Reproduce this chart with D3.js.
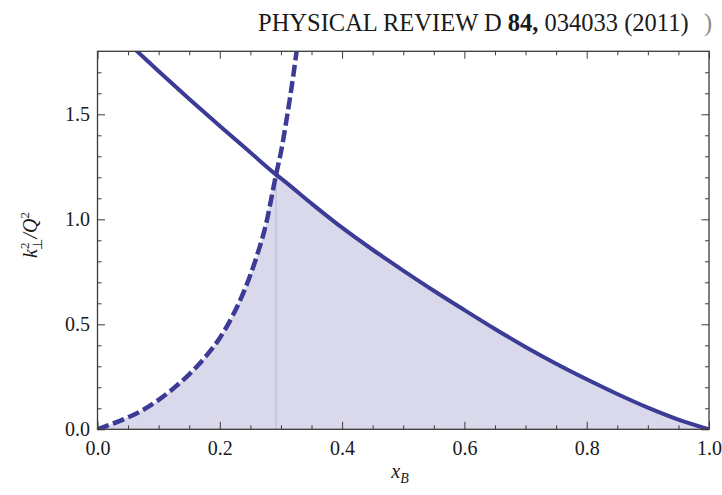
<!DOCTYPE html>
<html>
<head>
<meta charset="utf-8">
<script src="https://cdn.jsdelivr.net/npm/d3@7"></script>
<style>
  body { margin: 0; background: #fff; }
  svg { display: block; }
  text { font-family: "Liberation Serif", "Times New Roman", serif; }
</style>
</head>
<body>
<svg id="chart" width="722" height="495"></svg>
<script>
// Upper limit on k_perp^2/Q^2 from parton energy (solid line)
const energyX = [0.05, 0.1, 0.15, 0.2, 0.25, 0.292, 0.3, 0.35, 0.4, 0.45, 0.5, 0.55, 0.6, 0.65, 0.7, 0.75, 0.8, 0.85, 0.9, 0.95, 1.0];
const energyY = [1.84, 1.705, 1.573, 1.444, 1.318, 1.213, 1.195, 1.075, 0.96, 0.855, 0.756, 0.66, 0.568, 0.478, 0.392, 0.312, 0.238, 0.168, 0.103, 0.046, 0.0];

// Upper limit from the forward-moving parton condition (dashed line)
const forwardX = [0.0, 0.025, 0.05, 0.075, 0.1, 0.125, 0.15, 0.175, 0.2, 0.22, 0.24, 0.26, 0.275, 0.292, 0.3, 0.31, 0.32, 0.33];
const forwardY = [0.0, 0.027, 0.057, 0.093, 0.14, 0.197, 0.262, 0.34, 0.435, 0.535, 0.66, 0.82, 0.97, 1.213, 1.32, 1.49, 1.68, 1.9];

// Point where the two limits meet
const crossX = 0.292;
const crossY = 1.213;

// Axis ticks
const xMajor = [0, 0.2, 0.4, 0.6, 0.8, 1.0];
const xMinor = [0.05, 0.1, 0.15, 0.25, 0.3, 0.35, 0.45, 0.5, 0.55, 0.65, 0.7, 0.75, 0.85, 0.9, 0.95];
const yMajor = [0, 0.5, 1.0, 1.5];
const yMinor = [0.1, 0.2, 0.3, 0.4, 0.6, 0.7, 0.8, 0.9, 1.1, 1.2, 1.3, 1.4, 1.6, 1.7];

const svg = d3.select("#chart");
const plotL = 97.5, plotR = 709, plotT = 51.3, plotB = 429.3;

const x = d3.scaleLinear().domain([0, 1]).range([plotL, plotR]);
const y = d3.scaleLinear().domain([0, 1.8]).range([plotB, plotT]);

const lineColor = "#3c3c97";
const frameColor = "#3a3a3a";

svg.append("defs").append("clipPath").attr("id", "plotClip")
  .append("rect")
  .attr("x", plotL).attr("y", plotT)
  .attr("width", plotR - plotL).attr("height", plotB - plotT);

const energy = energyX.map((v, i) => ({ x: v, y: energyY[i] }));
const forward = forwardX.map((v, i) => ({ x: v, y: forwardY[i] }));

// Allowed region: below both limits
const region = forward.filter(d => d.x < crossX)
  .concat([{ x: crossX, y: crossY }])
  .concat(energy.filter(d => d.x > crossX));

const plot = svg.append("g").attr("clip-path", "url(#plotClip)");

plot.append("path")
  .datum(region)
  .attr("fill", "#d9d9eb")
  .attr("d", d3.area().x(d => x(d.x)).y0(y(0)).y1(d => y(d.y)).curve(d3.curveMonotoneX));

plot.append("line")
  .attr("x1", x(crossX)).attr("x2", x(crossX))
  .attr("y1", y(crossY)).attr("y2", y(0))
  .attr("stroke", "#b9b9d8").attr("stroke-width", 1);

const line = d3.line().x(d => x(d.x)).y(d => y(d.y)).curve(d3.curveMonotoneX);

plot.append("path")
  .datum(forward)
  .attr("fill", "none")
  .attr("stroke", lineColor)
  .attr("stroke-width", 4.5)
  .attr("stroke-dasharray", "12,4.5")
  .attr("d", line);

plot.append("path")
  .datum(energy)
  .attr("fill", "none")
  .attr("stroke", lineColor)
  .attr("stroke-width", 4)
  .attr("d", line);

// Frame ticks on all four sides, pointing inward
function styleAxis(g) {
  g.select(".domain").remove();
  g.selectAll(".tick line").attr("stroke", frameColor).attr("stroke-width", 1);
  g.selectAll(".tick text")
    .attr("fill", "#1a1a1a")
    .style("font-size", "20px")
    .style("font-family", "'Liberation Serif', 'Times New Roman', serif");
}

const fmt = d3.format(".1f");

svg.append("g").attr("transform", `translate(0,${plotB})`)
  .call(d3.axisBottom(x).tickValues(xMinor).tickSize(-4).tickFormat(""))
  .call(styleAxis);
svg.append("g").attr("transform", `translate(0,${plotB})`)
  .call(d3.axisBottom(x).tickValues(xMajor).tickSize(-7.5).tickPadding(12).tickFormat(fmt))
  .call(styleAxis);

svg.append("g").attr("transform", `translate(0,${plotT})`)
  .call(d3.axisTop(x).tickValues(xMinor).tickSize(-4).tickFormat(""))
  .call(styleAxis);
svg.append("g").attr("transform", `translate(0,${plotT})`)
  .call(d3.axisTop(x).tickValues(xMajor).tickSize(-7.5).tickFormat(""))
  .call(styleAxis);

svg.append("g").attr("transform", `translate(${plotL},0)`)
  .call(d3.axisLeft(y).tickValues(yMinor).tickSize(-4).tickFormat(""))
  .call(styleAxis);
svg.append("g").attr("transform", `translate(${plotL},0)`)
  .call(d3.axisLeft(y).tickValues(yMajor).tickSize(-7.5).tickPadding(7.5).tickFormat(fmt))
  .call(styleAxis);

svg.append("g").attr("transform", `translate(${plotR},0)`)
  .call(d3.axisRight(y).tickValues(yMinor).tickSize(-4).tickFormat(""))
  .call(styleAxis);
svg.append("g").attr("transform", `translate(${plotR},0)`)
  .call(d3.axisRight(y).tickValues(yMajor).tickSize(-7.5).tickFormat(""))
  .call(styleAxis);

svg.append("rect")
  .attr("x", plotL).attr("y", plotT)
  .attr("width", plotR - plotL).attr("height", plotB - plotT)
  .attr("fill", "none").attr("stroke", frameColor).attr("stroke-width", 1.3);

// Axis titles
const xt = svg.append("text")
  .attr("x", 400).attr("y", 478)
  .attr("text-anchor", "middle")
  .attr("fill", "#1a1a1a")
  .style("font-size", "20px");
xt.append("tspan").style("font-style", "italic").text("x");
xt.append("tspan").style("font-style", "italic").style("font-size", "14px").attr("dy", 5).text("B");

const yt = svg.append("text")
  .attr("transform", "translate(37,235) rotate(-90)")
  .attr("text-anchor", "middle")
  .attr("fill", "#1a1a1a")
  .style("font-size", "20px");
yt.append("tspan").style("font-style", "italic").text("k");
yt.append("tspan").style("font-size", "13px").attr("dy", -8).text("2");
yt.append("tspan").style("font-size", "13px").attr("dx", -7).attr("dy", 13).text("⊥");
yt.append("tspan").style("font-style", "italic").attr("dy", -5).text("/Q");
yt.append("tspan").style("font-size", "13px").attr("dy", -8).text("2");

// Journal header
const title = svg.append("text")
  .attr("x", 258).attr("y", 31)
  .attr("fill", "#1a1a1a")
  .style("font-size", "24.5px");
title.append("tspan").text("PHYSICAL REVIEW D ");
title.append("tspan").style("font-weight", "bold").text("84,");
title.append("tspan").text(" 034033 (2011)");
svg.append("text")
  .attr("x", 704).attr("y", 31)
  .attr("fill", "#8a8a8a")
  .style("font-size", "24.5px")
  .text(")");
</script>
</body>
</html>
